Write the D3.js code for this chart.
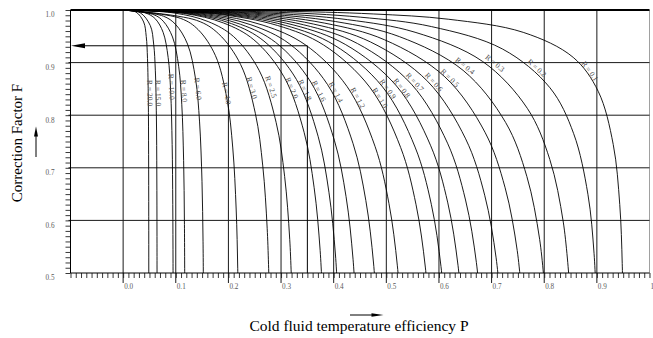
<!DOCTYPE html>
<html>
<head>
<meta charset="utf-8">
<script src="https://cdnjs.cloudflare.com/ajax/libs/d3/7.8.5/d3.min.js"></script>
<style>
  body { margin: 0; background: #fff; }
  svg { display: block; font-family: "Liberation Serif", "Times New Roman", serif; }
</style>
</head>
<body>
<div id="chart"></div>
<script>
const width = 653;
const height = 338;

// tick labels
const xTickValues = [0, 0.1, 0.2, 0.3, 0.4, 0.5, 0.6, 0.7, 0.8, 0.9, 1.0];
const xTickLabels = ['0.0', '0.1', '0.2', '0.3', '0.4', '0.5', '0.6', '0.7', '0.8', '0.9', '1'];
const yTickValues = [0.5, 0.6, 0.7, 0.8, 0.9, 1.0];
const yTickLabels = ['0.5', '0.6', '0.7', '0.8', '0.9', '1.0'];

// curves, [P, F] (one array per R)
const r20 = [[0, 1], [0.0244, 0.9961], [0.0390, 0.9772], [0.0439, 0.9495], [0.0463, 0.9075], [0.0478, 0.8304], [0.0484, 0.7254], [0.04865, 0.6069], [0.04873, 0.5036], [0.04875, 0.4171]];
const r15 = [[0, 1], [0.0322, 0.9949], [0.0516, 0.9703], [0.0580, 0.9352], [0.0612, 0.8843], [0.0632, 0.7966], [0.0640, 0.6863], [0.06432, 0.5695], [0.06442, 0.4712]];
const r10 = [[0, 1], [0.0285, 0.9980], [0.0475, 0.9925], [0.0618, 0.9825], [0.0760, 0.9575], [0.0855, 0.9099], [0.0903, 0.8453], [0.0931, 0.7444], [0.0943, 0.6301], [0.0948, 0.5179], [0.0950, 0.4270]];
const r8 = [[0, 1], [0.0586, 0.9909], [0.0762, 0.9787], [0.0938, 0.9487], [0.1055, 0.8931], [0.1114, 0.8209], [0.1149, 0.7141], [0.1164, 0.5993], [0.1170, 0.4905]];
const r6 = [[0, 1], [0.0764, 0.9883], [0.0994, 0.9728], [0.1223, 0.9353], [0.1376, 0.8688], [0.1452, 0.7872], [0.1498, 0.6744], [0.1518, 0.5604], [0.1526, 0.4564]];
const r4 = [[0, 1], [0.1096, 0.9839], [0.1425, 0.9627], [0.1754, 0.9132], [0.1973, 0.8307], [0.2083, 0.7377], [0.2148, 0.6198], [0.2177, 0.5090], [0.2188, 0.4122]];
const r3 = [[0, 1], [0.1396, 0.9803], [0.1815, 0.9546], [0.2234, 0.8960], [0.2513, 0.8029], [0.2653, 0.7035], [0.2737, 0.5842], [0.2773, 0.4765]];
const r2_5 = [[0, 1], [0.0969, 0.9943], [0.1615, 0.9780], [0.2099, 0.9494], [0.2584, 0.8852], [0.2907, 0.7861], [0.3068, 0.6836], [0.3165, 0.5640], [0.3207, 0.4584]];
const r2 = [[0, 1], [0.1146, 0.9936], [0.1910, 0.9752], [0.2483, 0.9434], [0.3056, 0.8730], [0.3438, 0.7675], [0.3629, 0.6621], [0.3743, 0.5427], [0.3793, 0.4394]];
const r1_8 = [[0, 1], [0.1235, 0.9932], [0.2058, 0.9741], [0.2675, 0.9409], [0.3293, 0.8679], [0.3704, 0.7599], [0.3910, 0.6535], [0.4034, 0.5342], [0.4087, 0.4320]];
const r1_6 = [[0, 1], [0.1337, 0.9930], [0.2229, 0.9729], [0.2897, 0.9384], [0.3566, 0.8628], [0.4012, 0.7526], [0.4235, 0.6452], [0.4368, 0.5262], [0.4426, 0.4249]];
const r1_4 = [[0, 1], [0.1456, 0.9927], [0.2427, 0.9719], [0.3155, 0.9360], [0.3883, 0.8583], [0.4368, 0.7460], [0.4611, 0.6378], [0.4757, 0.5190], [0.4820, 0.4186]];
const r1_2 = [[0, 1], [0.1595, 0.9925], [0.2658, 0.9711], [0.3456, 0.9342], [0.4253, 0.8547], [0.4785, 0.7409], [0.5050, 0.6322], [0.5210, 0.5136], [0.5279, 0.4128]];
const r1_0 = [[0, 1], [0.1757, 0.9924], [0.2929, 0.9707], [0.3808, 0.9335], [0.4686, 0.8532], [0.5272, 0.7387], [0.5565, 0.6298], [0.5741, 0.5113], [0.5817, 0.4118]];
const r0_9 = [[0, 1], [0.1849, 0.9924], [0.3081, 0.9708], [0.4006, 0.9337], [0.4930, 0.8537], [0.5546, 0.7394], [0.5855, 0.6306], [0.6039, 0.5121], [0.6120, 0.4125]];
const r0_8 = [[0, 1], [0.1948, 0.9925], [0.3246, 0.9713], [0.4220, 0.9346], [0.5194, 0.8555], [0.5843, 0.7419], [0.6168, 0.6333], [0.6362, 0.5147], [0.6447, 0.4148]];
const r0_7 = [[0, 1], [0.2054, 0.9927], [0.3424, 0.9720], [0.4451, 0.9363], [0.5478, 0.8589], [0.6163, 0.7468], [0.6505, 0.6388], [0.6711, 0.5200], [0.6800, 0.4194]];
const r0_6 = [[0, 1], [0.2169, 0.9931], [0.3615, 0.9733], [0.4700, 0.9392], [0.5784, 0.8645], [0.6507, 0.7550], [0.6869, 0.6479], [0.7086, 0.5288], [0.7180, 0.4272]];
const r0_5 = [[0, 1], [0.2292, 0.9936], [0.3820, 0.9752], [0.4966, 0.9434], [0.6111, 0.8730], [0.6875, 0.7675], [0.7257, 0.6621], [0.7487, 0.5427], [0.7586, 0.4394]];
const r0_4 = [[0, 1], [0.2422, 0.9943], [0.4037, 0.9780], [0.5248, 0.9494], [0.6459, 0.8852], [0.7267, 0.7861], [0.7670, 0.6836], [0.7913, 0.5640], [0.8018, 0.4584]];
const r0_3 = [[0, 1], [0.2560, 0.9952], [0.4266, 0.9816], [0.5546, 0.9577], [0.6826, 0.9024], [0.7679, 0.8130], [0.8106, 0.7158], [0.8362, 0.5968], [0.8473, 0.4879]];
const r0_2 = [[0, 1], [0.2703, 0.9965], [0.4505, 0.9864], [0.5856, 0.9685], [0.7208, 0.9258], [0.8109, 0.8521], [0.8559, 0.7650], [0.8830, 0.6497], [0.8947, 0.5367], [0.8992, 0.4359]];
const r0_1 = [[0, 1], [0.2850, 0.9980], [0.4751, 0.9925], [0.6176, 0.9825], [0.7601, 0.9575], [0.8551, 0.9099], [0.9026, 0.8453], [0.9311, 0.7444], [0.9435, 0.6301], [0.9482, 0.5179], [0.9496, 0.4270]];

const curveData = [r20, r15, r10, r8, r6, r4, r3, r2_5, r2, r1_8, r1_6, r1_4, r1_2, r1_0, r0_9, r0_8, r0_7, r0_6, r0_5, r0_4, r0_3, r0_2, r0_1];
const curveLabels = ['R = 20.0', 'R = 15.0', 'R = 10.0', 'R = 8.0', 'R = 6.0', 'R = 4.0', 'R = 3.0', 'R = 2.5', 'R = 2.0', 'R = 1.8', 'R = 1.6', 'R = 1.4', 'R = 1.2', 'R = 1.0', 'R = 0.9', 'R = 0.8', 'R = 0.7', 'R = 0.6', 'R = 0.5', 'R = 0.4', 'R = 0.3', 'R = 0.2', 'R = 0.1'];
// where each label is centred, in chart units
const labelP = [0.0511, 0.0669, 0.0923, 0.1157, 0.1423, 0.1968, 0.2449, 0.2810, 0.3209, 0.3456, 0.3722, 0.4045, 0.4462, 0.4880, 0.5032, 0.5298, 0.5545, 0.5906, 0.6210, 0.6495, 0.7065, 0.7863, 0.8869];
const labelF = [0.842, 0.842, 0.854, 0.846, 0.850, 0.842, 0.852, 0.854, 0.852, 0.848, 0.846, 0.844, 0.833, 0.833, 0.850, 0.852, 0.863, 0.863, 0.871, 0.894, 0.899, 0.890, 0.884];

// worked example marked on the chart
const exampleP = 0.35;
const exampleF = 0.932;

const svg = d3.select('#chart')
  .append('svg')
  .attr('width', width)
  .attr('height', height);

const x = d3.scaleLinear().domain([-0.1, 1.0]).range([70.5, 649.5]);
const y = d3.scaleLinear().domain([0.5, 1.0]).range([273, 10]);

const g = svg.append('g');

// minor ticks
const xMinor = d3.range(-10, 101).map((i) => i / 100);
const yMinor = d3.range(50, 101).map((i) => i / 100);

g.append('g')
  .attr('transform', 'translate(0,' + y(0.5) + ')')
  .call(d3.axisBottom(x).tickValues(xMinor).tickSize(5).tickFormat(''))
  .call((a) => a.select('.domain').remove());

g.append('g')
  .attr('transform', 'translate(' + x(-0.1) + ',0)')
  .call(d3.axisLeft(y).tickValues(yMinor).tickSize(5).tickFormat(''))
  .call((a) => a.select('.domain').remove());

g.selectAll('.tick line').attr('stroke', '#222').attr('stroke-width', 0.9);

// tick labels
const xLab = g.append('g')
  .attr('transform', 'translate(0,' + y(0.5) + ')')
  .call(d3.axisBottom(x).tickValues(xTickValues).tickSize(0).tickPadding(10.5)
    .tickFormat((d, i) => xTickLabels[i]));
xLab.select('.domain').remove();
xLab.selectAll('text')
  .attr('text-anchor', 'start')
  .attr('x', 0.5)
  .attr('fill', '#5a5a5a')
  .style('font-size', '7.2px')
  .style('font-family', '"Liberation Serif", serif');

const yLab = g.append('g')
  .attr('transform', 'translate(' + x(-0.1) + ',0)')
  .call(d3.axisLeft(y).tickValues(yTickValues).tickSize(0).tickPadding(16)
    .tickFormat((d, i) => yTickLabels[i]));
yLab.select('.domain').remove();
yLab.selectAll('text')
  .attr('dy', '0.95em')
  .attr('fill', '#5a5a5a')
  .style('font-size', '7.2px')
  .style('font-family', '"Liberation Serif", serif');

// grid
g.selectAll('line.vgrid')
  .data(xTickValues.slice(0, 10))
  .join('line')
  .attr('class', 'vgrid')
  .attr('x1', (d) => x(d)).attr('x2', (d) => x(d))
  .attr('y1', y(1.0)).attr('y2', y(0.5) + 10)
  .attr('stroke', '#1a1a1a').attr('stroke-width', 1);

g.append('line')
  .attr('x1', x(1.0)).attr('x2', x(1.0))
  .attr('y1', y(1.0)).attr('y2', y(0.5) + 5)
  .attr('stroke', '#888').attr('stroke-width', 0.8);

g.selectAll('line.hgrid')
  .data([0.6, 0.7, 0.8, 0.9])
  .join('line')
  .attr('class', 'hgrid')
  .attr('x1', x(-0.1) - 2).attr('x2', x(1.0))
  .attr('y1', (d) => y(d)).attr('y2', (d) => y(d))
  .attr('stroke', '#1a1a1a').attr('stroke-width', 1);

// frame
g.append('line')
  .attr('x1', x(-0.1)).attr('x2', x(1.0))
  .attr('y1', y(0.5)).attr('y2', y(0.5))
  .attr('stroke', '#000').attr('stroke-width', 1);
g.append('line')
  .attr('x1', x(-0.1)).attr('x2', x(-0.1))
  .attr('y1', y(1.0)).attr('y2', y(0.5))
  .attr('stroke', '#000').attr('stroke-width', 1);
g.append('line')
  .attr('x1', x(-0.1)).attr('x2', x(1.0))
  .attr('y1', y(1.0)).attr('y2', y(1.0))
  .attr('stroke', '#000').attr('stroke-width', 2);

// curves, cut at the frame
svg.append('clipPath').attr('id', 'plot-clip')
  .append('rect')
  .attr('x', x(-0.1)).attr('y', y(1.0) - 1)
  .attr('width', x(1.0) - x(-0.1)).attr('height', y(0.5) - y(1.0) + 1);

const line = d3.line()
  .x((d) => x(d[0]))
  .y((d) => y(d[1]))
  .curve(d3.curveCatmullRom.alpha(0.5));

const paths = g.append('g')
  .attr('clip-path', 'url(#plot-clip)')
  .selectAll('path.curve')
  .data(curveData)
  .join('path')
  .attr('class', 'curve')
  .attr('d', line)
  .attr('fill', 'none')
  .attr('stroke', '#000')
  .attr('stroke-width', 0.9);

// slope of a curve next to a point (for the label angle)
function angleNear(node, px, py) {
  const len = node.getTotalLength();
  let best = 0;
  let bestD = Infinity;
  for (let s = 0; s <= len; s += 1) {
    const p = node.getPointAtLength(s);
    const dd = (p.x - px) * (p.x - px) + (p.y - py) * (p.y - py);
    if (dd < bestD) { bestD = dd; best = s; }
  }
  const a = node.getPointAtLength(Math.max(0, best - 6));
  const b = node.getPointAtLength(Math.min(len, best + 6));
  return Math.atan2(b.y - a.y, b.x - a.x) * 180 / Math.PI;
}

paths.each(function (d, i) {
  const cx = x(labelP[i]);
  const cy = y(labelF[i]);
  const ang = angleNear(this, cx, cy);
  g.append('text')
    .attr('class', 'r label')
    .attr('transform', 'translate(' + cx + ',' + cy + ') rotate(' + ang + ')')
    .attr('text-anchor', 'middle')
    .attr('dy', '0.35em')
    .attr('fill', '#4a4a4a')
    .style('font-size', '7.5px')
    .text(curveLabels[i]);
});

// example reading: up from P, across to F
g.append('line')
  .attr('x1', x(exampleP)).attr('x2', x(exampleP))
  .attr('y1', y(exampleF)).attr('y2', y(0.5))
  .attr('stroke', '#000').attr('stroke-width', 1);
g.append('line')
  .attr('x1', x(-0.1) + 12).attr('x2', x(exampleP))
  .attr('y1', y(exampleF)).attr('y2', y(exampleF))
  .attr('stroke', '#000').attr('stroke-width', 1);
g.append('path')
  .attr('d', 'M' + (x(-0.1) + 0.5) + ',' + y(exampleF) + 'l14,-2.5v5z')
  .attr('fill', '#000');

// axis titles with arrows
svg.append('text')
  .attr('transform', 'translate(22,143) rotate(-90)')
  .attr('text-anchor', 'middle')
  .style('font-size', '15px')
  .text('Correction Factor F');
svg.append('line')
  .attr('x1', 36).attr('x2', 36).attr('y1', 157).attr('y2', 134)
  .attr('stroke', '#000').attr('stroke-width', 1);
svg.append('path').attr('d', 'M36,126.5l-2,10h4z').attr('fill', '#000');

svg.append('text')
  .attr('x', 359).attr('y', 331)
  .attr('text-anchor', 'middle')
  .style('font-size', '15.5px')
  .text('Cold fluid temperature efficiency P');
svg.append('line')
  .attr('x1', 350).attr('x2', 374).attr('y1', 315).attr('y2', 315)
  .attr('stroke', '#000').attr('stroke-width', 1);
svg.append('path').attr('d', 'M383.5,315l-12,-1.8v3.6z').attr('fill', '#000');
</script>
</body>
</html>
